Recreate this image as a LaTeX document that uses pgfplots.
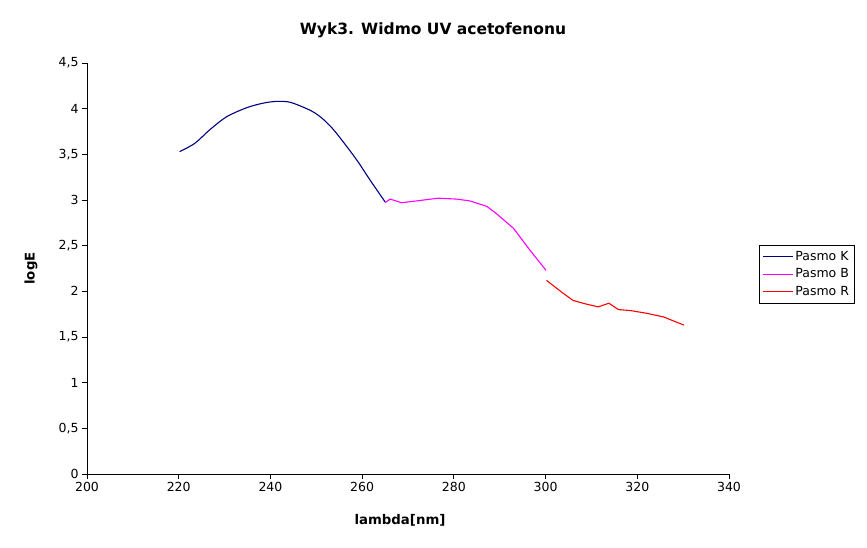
\documentclass[border=0pt]{standalone}
\usepackage{pgfplots}
\pgfplotsset{compat=1.18}
\usepackage{fontspec}
\setmainfont{DejaVu Sans}
\definecolor{kcol}{RGB}{0,0,128}
\definecolor{bcol}{RGB}{255,0,255}
\definecolor{rcol}{RGB}{255,0,0}
\begin{document}
\begin{tikzpicture}[x=1pt,y=1pt]
\useasboundingbox (0,0) rectangle (867,548);
\node[font=\fontsize{15.5}{18}\selectfont\bfseries] at (433,518) {Wyk3. Widmo UV acetofenonu};
\begin{axis}[
  at={(87pt,74pt)}, anchor=south west,
  scale only axis, width=642pt, height=411pt,
  xmin=200, xmax=340, ymin=0, ymax=4.5,
  xtick={200,220,...,340}, ytick={0,0.5,...,4.5},
  axis lines=left, axis line style={-, line width=0.8pt},
  tick align=outside, major tick length=5pt,
  tick style={line width=0.8pt, black},
  /pgf/number format/assume math mode=true,
  /pgf/number format/use comma,
  tick label style={font=\fontsize{12.5}{14}\selectfont},
  xlabel={\bfseries lambda[nm]}, ylabel={\bfseries logE},
  label style={font=\fontsize{13.3}{15}\selectfont},
  xlabel style={at={(axis description cs:0.4875,-0.112)}, anchor=center},
  ylabel style={at={(axis description cs:-0.0872,0.5)}, anchor=center, rotate=0},
  legend style={at={(1.0467,0.4866)}, anchor=west, draw=black, line width=0.8pt,
     font=\fontsize{12.5}{14}\selectfont, row sep=3pt, inner xsep=3pt, inner ysep=4pt},
  legend cell align=left,
  legend image code/.code={\draw[#1, line width=1pt] (0pt,0pt) -- (30pt,0pt);},
]
\addplot[kcol, line width=1.1pt, smooth] coordinates {
(220.2,3.53) (223.5,3.62) (226.8,3.77) (230.4,3.91) (234.8,4.01) (238.4,4.06)
(241.4,4.08) (244.3,4.07) (247.9,4.00) (249.8,3.95) (251.6,3.88) (253.4,3.79) (255.2,3.68) (258.8,3.44)
(261.7,3.22) (265.0,2.98)};
\addlegendentry{Pasmo K}
\addplot[bcol, line width=1.1pt] coordinates {
(265.0,2.97) (266.1,3.01) (268.6,2.97) (271.9,2.99) (276.6,3.02) (280.6,3.01)
(283.5,2.99) (287.2,2.93) (289.3,2.85) (293.0,2.69) (296.6,2.45) (300.1,2.23)};
\addlegendentry{Pasmo B}
\addplot[rcol, line width=1.1pt] coordinates {
(300.2,2.12) (303.8,1.98) (306.0,1.90) (308.9,1.86) (311.5,1.83) (313.8,1.87)
(315.9,1.80) (318.4,1.79) (322.0,1.76) (325.7,1.72) (330.2,1.63)};
\addlegendentry{Pasmo R}
\end{axis}
\end{tikzpicture}
\end{document}
